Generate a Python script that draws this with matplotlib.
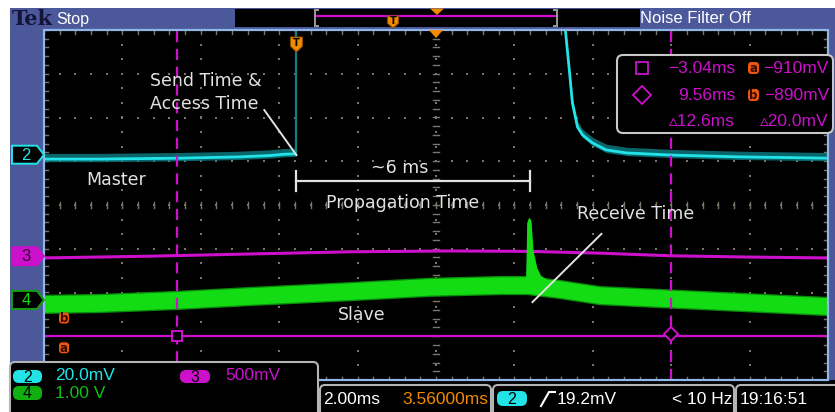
import numpy as np
import matplotlib
matplotlib.use("Agg")
import matplotlib.pyplot as plt
from matplotlib.patches import Polygon, FancyBboxPatch, Rectangle

W, H, DPI = 835, 412, 100

# ---------------- scope settings ----------------
time_per_div = 2.0          # ms / div
h_position = 3.56           # ms from trigger to screen centre
n_hdiv, n_vdiv = 10, 8
ch_scale_labels = {"2": "20.0mV", "3": "500mV", "4": "1.00 V"}
ch3_scale_mv = 500.0
trig_level = "19.2mV"
record_len = "2.00ms"
pos_label = "3.56000ms"
trig_freq = "< 10 Hz"
clock = "19:16:51"

# channel ground markers (divisions from centre)
ch2_offset = 1.15
ch3_offset = -1.17
ch4_offset = -2.17

# ---------------- traces (ms, divisions) ----------------
# Channel 2 - Master, before the send edge
ch2_pre_t = [-6.45, -5.03, -2.98, -1.45, -0.69, -0.31, -0.03]
ch2_pre_v = [1.05, 1.05, 1.07, 1.10, 1.13, 1.16, 1.17]
ch2_edge_top = 4.3
# Channel 2 - Master, recovering after the burst
ch2_post_t = [6.86, 6.96, 7.04, 7.17, 7.30, 7.55, 7.90, 8.42, 9.60, 11.3, 13.56]
ch2_post_v = [4.0, 3.09, 2.33, 1.78, 1.60, 1.42, 1.26, 1.19, 1.14, 1.10, 1.07]

# Channel 3 (magenta)
ch3_t = [-6.45, -3.75, -1.20, 1.35, 3.90, 5.94, 7.73, 9.52, 11.56, 13.56]
ch3_v = [-1.21, -1.17, -1.12, -1.07, -1.05, -1.06, -1.10, -1.16, -1.19, -1.21]

# Channel 4 - Slave, centre of the noise band and its half width
ch4_t = [-6.45, -5.03, -3.04, -1.20, 1.35, 3.39, 5.18, 5.89, 6.71, 7.73, 10.28, 13.56]
ch4_v = [-2.26, -2.24, -2.17, -2.08, -1.97, -1.87, -1.83, -1.83, -1.92, -2.06, -2.17, -2.31]
ch4_halfwidth = 0.19
# Receive spike on channel 4 (upper edge)
spike_t = [5.86, 5.89, 5.93, 5.97, 6.02, 6.12, 6.22, 6.40]
spike_v = [-1.70, -0.40, -0.30, -0.36, -1.03, -1.44, -1.62, -1.72]

# cursors
cursor_t = [-3.04, 9.56]       # ms
cursor_mv = [-910.0, -890.0]   # a, b

# annotations (text, t, div)
notes = [("Send Time &", -2.30, 2.83), ("Access Time", -2.35, 2.31),
         ("Master", -4.59, 0.57), ("~6 ms", 2.63, 0.85),
         ("Propagation Time", 2.70, 0.05), ("Receive Time", 8.65, -0.21),
         ("Slave", 1.66, -2.51)]
send_ptr = ([-0.82, 0.0], [2.17, 1.14])
recv_ptr = ([6.02, 7.78], [-2.22, -0.66])
prop_span = (0.0, 5.95, 0.55)

# ---------------- colours ----------------
BLUE = "#4b5899"
EDGE = "#8fb6e6"
CYAN = "#22e4e8"
TEAL = "#0c7f86"
MAG = "#cc10cc"
GREEN = "#14dc14"
DKGREEN = "#0a8a0a"
ORANGE = "#f28a00"
AB = "#e8560f"
GRID = "#77776a"
NOTE = "#e2e2e2"

UI = ["Liberation Sans Narrow", "Liberation Sans", "DejaVu Sans"]

fig = plt.figure(figsize=(W / DPI, H / DPI), dpi=DPI)
fig.patch.set_facecolor("white")


def px_axes(z):
    a = fig.add_axes([0, 0, 1, 1], zorder=z)
    a.set_xlim(0, W)
    a.set_ylim(H, 0)
    a.axis("off")
    a.patch.set_alpha(0)
    return a


base = px_axes(0)
L, T, R, B = 44, 30, 828, 380
base.add_patch(Rectangle((10, 8), W - 10, B - 8, fc=BLUE, ec="none"))
base.add_patch(Rectangle((10, B), W - 10, H - B, fc="black", ec="none"))
base.add_patch(Rectangle((L, T), R - L, B - T, fc="black", ec="none"))

# ---------------- graticule ----------------
ax = fig.add_axes([L / W, (H - B) / H, (R - L) / W, (B - T) / H], zorder=1)
x0 = h_position - n_hdiv / 2 * time_per_div
x1 = h_position + n_hdiv / 2 * time_per_div
ax.set_xlim(x0, x1)
ax.set_ylim(-n_vdiv / 2, n_vdiv / 2)
ax.patch.set_alpha(0)
for s in ax.spines.values():
    s.set_visible(False)
ax.set_xticks([])
ax.set_yticks([])

minor_t = time_per_div / 5
vlines_t = [x0 + k * time_per_div for k in range(1, n_hdiv)]
hlines_d = [k for k in range(-3, 4)]
# dotted major lines
for t in vlines_t:
    yy = np.arange(-4, 4.001, 1 / 3)
    ax.scatter(np.full_like(yy, t), yy, s=1.3, c=GRID, marker="s", lw=0, zorder=1)
for d in hlines_d:
    xx = np.arange(x0, x1 + 1e-6, minor_t)
    ax.scatter(xx, np.full_like(xx, d), s=1.3, c=GRID, marker="s", lw=0, zorder=1)
# centre cross with minor ticks, plus edge ticks
xc = h_position
for d in np.arange(-4, 4.001, 0.2):
    ax.plot([xc - 0.07, xc + 0.07], [d, d], color=GRID, lw=1.0, zorder=1)
    ax.plot([x0, x0 + 0.1], [d, d], color=GRID, lw=1.0, zorder=1)
    ax.plot([x1, x1 - 0.1], [d, d], color=GRID, lw=1.0, zorder=1)
for t in np.arange(x0, x1 + 1e-6, minor_t):
    ax.plot([t, t], [-0.06, 0.06], color=GRID, lw=1.0, zorder=1)
    ax.plot([t, t], [4, 3.92], color=GRID, lw=1.0, zorder=1)
    ax.plot([t, t], [-4, -3.92], color=GRID, lw=1.0, zorder=1)

# ---------------- traces ----------------
ch2_pre_t_a = np.array(ch2_pre_t)
ch2_pre_v_a = np.array(ch2_pre_v)
ax.fill_between(ch2_pre_t_a, ch2_pre_v_a - 0.06, ch2_pre_v_a + 0.13, color=TEAL, lw=0, alpha=0.8, zorder=2)
ax.plot(ch2_pre_t, ch2_pre_v, color=CYAN, lw=2.0, zorder=3)
ax.plot([0.0, 0.0], [ch2_pre_v[-1], ch2_edge_top], color=TEAL, lw=1.6, zorder=3)
ch2_post_t_a = np.array(ch2_post_t)
ch2_post_v_a = np.array(ch2_post_v)
ax.fill_between(ch2_post_t_a, ch2_post_v_a - 0.06, ch2_post_v_a + 0.13, color=TEAL, lw=0, alpha=0.8, zorder=2)
ax.plot(ch2_post_t, ch2_post_v, color=CYAN, lw=2.0, zorder=3)

ax.plot(ch3_t, ch3_v, color=MAG, lw=2.2, zorder=3)

ch4_t_a = np.array(ch4_t)
ch4_v_a = np.array(ch4_v)
ax.fill_between(ch4_t_a, ch4_v_a - ch4_halfwidth - 0.03, ch4_v_a + ch4_halfwidth + 0.03,
                color=DKGREEN, lw=0, zorder=2)
ax.fill_between(ch4_t_a, ch4_v_a - ch4_halfwidth, ch4_v_a + ch4_halfwidth,
                color=GREEN, lw=0, zorder=3)
spike_base = np.interp(spike_t, ch4_t, ch4_v)
ax.fill_between(spike_t, spike_base, spike_v, color=GREEN, lw=0.8, ec=GREEN, zorder=3)

# ---------------- cursors ----------------
for t in cursor_t:
    ax.axvline(t, color=MAG, lw=1.6, dashes=(5, 3), zorder=4)
cur_d = [ch3_offset + mv / ch3_scale_mv for mv in cursor_mv]
ax.axhline(cur_d[0], color=MAG, lw=1.6, zorder=4)
ax.plot(cursor_t[0], cur_d[0], marker="s", ms=7.5, mfc="black", mec=MAG, mew=1.4, zorder=5)
ax.plot(cursor_t[1], cur_d[1], marker="D", ms=7, mfc="black", mec=MAG, mew=1.4, zorder=5)

# ---------------- annotations ----------------
for txt, t, d in notes:
    ax.text(t, d, txt, color=NOTE, fontsize=12.5, ha="center", va="center",
            family="DejaVu Sans", zorder=6)
ax.plot(*send_ptr, color=NOTE, lw=1.4, zorder=6)
ax.plot(*recv_ptr, color=NOTE, lw=1.4, zorder=6)
ax.plot([prop_span[0], prop_span[1]], [prop_span[2]] * 2, color=NOTE, lw=1.6, zorder=6)
for t in prop_span[:2]:
    ax.plot([t, t], [prop_span[2] - 0.23, prop_span[2] + 0.23], color=NOTE, lw=1.6, zorder=6)

top = px_axes(3)


def to_px(t, d):
    xd, yd = ax.transData.transform((t, d))
    return xd, H - yd


# graticule border
top.add_patch(Rectangle((L, T), R - L, B - T, fc="none", ec=EDGE, lw=1.6))


def shield(axp, x, y0, w, h, fc, z=7):
    pts = [(x - w / 2, y0), (x + w / 2, y0), (x + w / 2, y0 + h * 0.62),
           (x, y0 + h), (x - w / 2, y0 + h * 0.62)]
    axp.add_patch(Polygon(pts, closed=True, fc=fc, ec="#8a4a00", lw=0.8, zorder=z))
    axp.text(x, y0 + h * 0.42, "T", color="black", fontsize=7, fontweight="bold",
             ha="center", va="center", family="DejaVu Sans", zorder=z + 1)


xt, _ = to_px(0.0, 0)
shield(top, xt, 37, 12, 15, ORANGE)
xcen, _ = to_px(h_position, 0)
top.add_patch(Polygon([(xcen - 7, 30), (xcen + 7, 30), (xcen, 38)], fc=ORANGE, ec="none", zorder=7))

# ---------------- header ----------------
top.text(12, 18.5, "Tek", color="#14143a", fontsize=15, fontweight="bold",
         family="DejaVu Serif", ha="left", va="center")
top.text(56, 19, "Stop", color="white", fontsize=11.5, family=UI, ha="left", va="center")
top.add_patch(Rectangle((235, 9), 405, 18, fc="black", ec="none"))
for xb, sgn in ((315, 1), (557, -1)):
    top.plot([xb, xb], [10, 26], color="#9a9a9a", lw=1.4)
    top.plot([xb, xb + 3 * sgn], [10, 10], color="#9a9a9a", lw=1.4)
    top.plot([xb, xb + 3 * sgn], [26, 26], color="#9a9a9a", lw=1.4)
top.plot([317, 555], [16, 16], color=MAG, lw=1.6)
shield(top, 393, 16, 11, 12, ORANGE)
top.add_patch(Polygon([(430, 8.5), (444, 8.5), (437, 15)], fc=ORANGE, ec="none", zorder=7))
top.text(640, 18.5, "Noise Filter Off", color="white", fontsize=12, family=UI,
         ha="left", va="center")


# ---------------- channel ground markers ----------------
def ch_marker(label, d, fc, ec, tc):
    _, y = to_px(0, d)
    pts = [(12, y - 9), (37, y - 9), (44, y), (37, y + 9), (12, y + 9)]
    top.add_patch(Polygon(pts, closed=True, fc=fc, ec=ec, lw=1.4, zorder=7))
    top.text(26, y + 0.5, label, color=tc, fontsize=12, family=UI, ha="center",
             va="center", zorder=8)


ch_marker("2", ch2_offset, "black", CYAN, CYAN)
ch_marker("3", ch3_offset, MAG, MAG, "#2a002a")
ch_marker("4", ch4_offset, "black", "#10a010", GREEN)


def ab_tag(x, y, letter):
    top.add_patch(FancyBboxPatch((x - 5, y - 5.5), 10, 11, boxstyle="round,pad=0,rounding_size=3",
                                 fc=AB, ec="none", zorder=7))
    top.text(x, y + 0.5, letter, color="#3a0a00", fontsize=8.5, fontweight="bold",
             family="DejaVu Sans", ha="center", va="center", zorder=8)


_, ya = to_px(0, cur_d[0])
_, yb = to_px(0, cur_d[1])
ab_tag(64, yb - 16, "b")
ab_tag(64, ya + 12, "a")

# ---------------- cursor readout ----------------
top.add_patch(FancyBboxPatch((617, 55), 216, 78, boxstyle="round,pad=0,rounding_size=6",
                             fc="black", ec="#c8c8c8", lw=1.5, zorder=8))
top.plot(642, 68, marker="s", ms=9, mfc="none", mec=MAG, mew=1.3, zorder=9)
top.plot(642, 95, marker="D", ms=9, mfc="none", mec=MAG, mew=1.3, zorder=9)


def fmt_ms(v):
    return ("\u2212" if v < 0 else "") + f"{abs(v):.2f}ms"


def fmt_mv(v):
    return ("\u2212" if v < 0 else "") + f"{abs(v):.0f}mV"


rows = [(68, fmt_ms(cursor_t[0]), fmt_mv(cursor_mv[0]), "a"),
        (95, fmt_ms(cursor_t[1]), fmt_mv(cursor_mv[1]), "b")]
for y, tstr, vstr, tag in rows:
    top.text(735, y, tstr, color=MAG, fontsize=12.5, family=UI, ha="right", va="center", zorder=9)
    top.text(829, y, vstr, color=MAG, fontsize=12.5, family=UI, ha="right", va="center", zorder=9)
    top.add_patch(FancyBboxPatch((748, y - 6), 11, 12, boxstyle="round,pad=0,rounding_size=3.5",
                                 fc=AB, ec="none", zorder=9))
    top.text(753.5, y + 0.5, tag, color="#3a0a00", fontsize=8.5, fontweight="bold",
             family="DejaVu Sans", ha="center", va="center", zorder=10)
dt = cursor_t[1] - cursor_t[0]
dv = cursor_mv[1] - cursor_mv[0]
top.text(735, 121, f"\u25b5{dt:.1f}ms", color=MAG, fontsize=12.5, family=UI,
         ha="right", va="center", zorder=9)
top.text(829, 121, f"\u25b5{dv:.1f}mV", color=MAG, fontsize=12.5, family=UI,
         ha="right", va="center", zorder=9)


# ---------------- bottom status panels ----------------
def panel(x, y, w, h):
    top.add_patch(FancyBboxPatch((x, y), w, h, boxstyle="round,pad=0,rounding_size=5",
                                 fc="black", ec="#b4b4b4", lw=1.5, zorder=8))


def pill(x, y, w, h, fc, label):
    top.add_patch(FancyBboxPatch((x, y), w, h, boxstyle="round,pad=0,rounding_size=6",
                                 fc=fc, ec="none", zorder=9))
    top.text(x + w / 2, y + h / 2 + 0.5, label, color="black", fontsize=11.5, family=UI,
             ha="center", va="center", zorder=10)


panel(10, 362, 308, 60)
pill(13, 370, 29, 13, CYAN, "2")
top.text(55, 376, ch_scale_labels["2"], color=CYAN, fontsize=12.5, family=UI, va="center", zorder=10)
pill(180, 370, 30, 13, MAG, "3")
top.text(225, 376, ch_scale_labels["3"], color=MAG, fontsize=12.5, family=UI, va="center", zorder=10)
pill(13, 386, 29, 14, "#10b010", "4")
top.text(55, 393, ch_scale_labels["4"], color="#10c010", fontsize=12.5, family=UI, va="center", zorder=10)

panel(320, 385, 171, 40)
panel(493, 385, 241, 40)
panel(736, 385, 110, 40)
top.text(323, 399, record_len, color="white", fontsize=12.5, family=UI, va="center", zorder=10)
top.text(488, 399, pos_label, color=ORANGE, fontsize=12.5, family=UI, ha="right", va="center", zorder=10)
pill(497, 391, 30, 15, CYAN, "2")
top.plot([541, 549, 555], [406, 392, 392], color="white", lw=1.5, zorder=10)
top.text(557, 399, trig_level, color="white", fontsize=12.5, family=UI, va="center", zorder=10)
top.text(732, 399, trig_freq, color="white", fontsize=12.5, family=UI, ha="right", va="center", zorder=10)
top.text(740, 399, clock, color="white", fontsize=12.5, family=UI, va="center", zorder=10)

fig.savefig("out.png", dpi=DPI, facecolor=fig.get_facecolor())
